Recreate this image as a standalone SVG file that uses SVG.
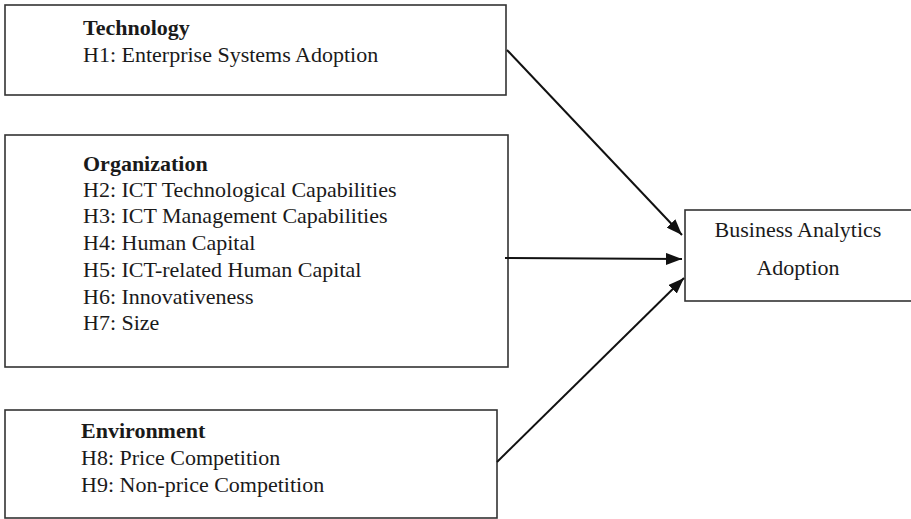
<svg xmlns="http://www.w3.org/2000/svg" width="911" height="519" viewBox="0 0 911 519">
<defs>
<style>
.box{fill:#fff;stroke:#333;stroke-width:1.6}
.t{font-family:"Liberation Serif","Times New Roman",serif;font-size:22px;fill:#1a1a1a}
.b{font-weight:bold}
.c{stroke:#111;stroke-width:2;fill:none}
</style>
<marker id="arr" viewBox="0 0 16 12" refX="16" refY="6" markerWidth="16" markerHeight="12" markerUnits="userSpaceOnUse" orient="auto">
<path d="M0,0 L16,6 L0,12 z" fill="#111"/>
</marker>
</defs>
<rect width="911" height="519" fill="#fff"/>
<g id="technology">
<rect class="box" x="5" y="5" width="501" height="90"/>
<text class="t b" x="83" y="35">Technology</text>
<text class="t" x="83" y="62">H1: Enterprise Systems Adoption</text>
</g>
<g id="organization">
<rect class="box" x="5" y="135" width="503" height="232"/>
<text class="t b" x="83" y="171">Organization</text>
<text class="t" x="83" y="197">H2: ICT Technological Capabilities</text>
<text class="t" x="83" y="223">H3: ICT Management Capabilities</text>
<text class="t" x="83" y="250">H4: Human Capital</text>
<text class="t" x="83" y="277">H5: ICT-related Human Capital</text>
<text class="t" x="83" y="304">H6: Innovativeness</text>
<text class="t" x="83" y="330">H7: Size</text>
</g>
<g id="environment">
<rect class="box" x="5" y="410" width="492" height="108"/>
<text class="t b" x="81" y="438">Environment</text>
<text class="t" x="81" y="465">H8: Price Competition</text>
<text class="t" x="81" y="492">H9: Non-price Competition</text>
</g>
<g id="ba">
<rect class="box" x="685" y="210" width="240" height="91"/>
<text class="t" x="798" y="237" text-anchor="middle">Business Analytics</text>
<text class="t" x="798" y="275" text-anchor="middle">Adoption</text>
</g>
<g id="connectors">
<line class="c" x1="507" y1="50" x2="682" y2="235" marker-end="url(#arr)"/>
<line class="c" x1="505" y1="258" x2="682" y2="259" marker-end="url(#arr)"/>
<line class="c" x1="497" y1="462" x2="684" y2="278" marker-end="url(#arr)"/>
</g>
</svg>
